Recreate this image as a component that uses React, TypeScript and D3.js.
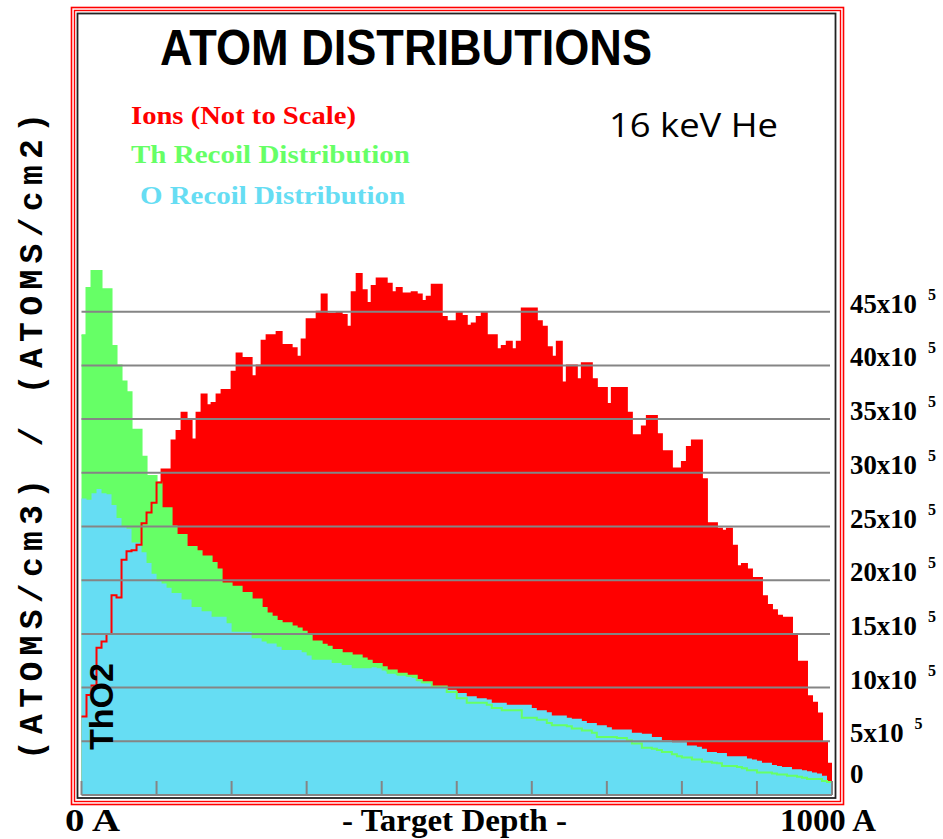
import * as d3 from 'd3';

// ion range histogram (x10^5, not to scale), 150 bins over 0..1000 A
const ionValues = [
  7.3, 9.3, 10.2, 13.7, 14.3, 15.0, 18.6, 18.4, 21.9, 22.7,
  22.8, 23.3, 25.3, 26.3, 27.2, 29.1, 30.3, 30.3, 33.0, 33.9,
  35.6, 34.9, 33.1, 35.6, 37.3, 36.3, 36.5, 37.3, 37.7, 37.7,
  39.4, 41.1, 40.7, 40.7, 39.0, 40.0, 42.3, 42.8, 42.8, 43.1,
  41.9, 41.9, 41.6, 40.8, 42.4, 44.3, 44.3, 45.0, 46.6, 44.8,
  44.8, 44.9, 44.7, 43.6, 46.8, 48.5, 47.0, 45.8, 47.4, 48.1,
  48.1, 47.6, 46.8, 47.2, 46.7, 46.7, 46.8, 46.6, 46.0, 46.4,
  47.5, 47.5, 44.5, 44.1, 44.1, 44.9, 44.6, 43.7, 43.9, 44.5,
  44.9, 42.8, 42.8, 41.5, 41.8, 42.2, 41.5, 42.2, 45.3, 45.3,
  45.3, 44.1, 43.6, 41.7, 40.8, 42.2, 38.4, 40.0, 40.0, 38.7,
  40.2, 40.2, 38.7, 37.9, 37.9, 36.4, 37.9, 37.9, 37.9, 35.6,
  33.5, 33.5, 34.3, 35.3, 35.3, 33.6, 32.0, 32.0, 30.4, 30.4,
  31.0, 32.4, 33.0, 33.0, 29.4, 25.3, 25.3, 24.8, 24.6, 24.8,
  23.2, 21.3, 21.5, 21.0, 20.2, 20.2, 18.5, 17.7, 17.2, 16.7,
  16.5, 16.5, 14.8, 12.4, 12.4, 9.2, 8.6, 7.6, 4.9, 2.9,
];

const thRecoil = [
  42.8, 47.2, 48.8, 48.8, 47.1, 47.1, 41.8, 40.0, 38.5, 37.5,
  34.0, 34.0, 31.5, 29.7, 29.7, 29.1, 26.7, 26.7, 25.0, 24.2,
  24.2, 23.1, 23.1, 22.7, 22.2, 22.2, 21.6, 21.0, 19.7, 19.7,
  19.4, 19.4, 18.8, 18.8, 18.2, 18.2, 17.4, 16.9, 16.6, 16.2,
  16.0, 16.0, 15.7, 15.5, 15.2, 14.8, 14.3, 14.3, 14.0, 13.8,
  13.5, 13.5, 13.2, 13.2, 13.0, 13.0, 12.7, 12.5, 12.2, 12.2,
  11.9, 11.6, 11.6, 11.3, 11.3, 11.1, 11.1, 10.7, 10.5, 10.5,
  10.1, 10.1, 10.1, 9.6, 9.6, 9.0, 9.0, 8.6, 8.6, 8.6,
  8.6, 8.4, 8.1, 8.1, 7.9, 7.9, 7.9, 7.9, 7.2, 7.2,
  7.2, 7.0, 7.0, 6.7, 6.5, 6.5, 6.5, 6.4, 6.2, 6.2,
  6.0, 6.0, 5.8, 5.4, 5.4, 5.4, 5.4, 5.3, 5.3, 5.1,
  4.8, 4.8, 4.4, 4.4, 4.3, 4.2, 4.0, 4.0, 3.8, 3.6,
  3.5, 3.5, 3.3, 3.3, 3.1, 3.1, 3.0, 2.95, 2.7, 2.7,
  2.7, 2.6, 2.5, 2.3, 2.3, 2.1, 2.1, 2.1, 2.0, 1.9,
  1.9, 1.8, 1.8, 1.7, 1.6, 1.5, 1.5, 1.5, 1.3, 1.2,
];

const oRecoil = [
  27.6, 27.5, 28.1, 28.5, 28.1, 28.0, 27.0, 25.8, 25.0, 24.8,
  23.5, 23.5, 22.6, 21.6, 20.6, 19.9, 19.7, 19.3, 18.8, 18.8,
  18.2, 18.2, 17.5, 17.5, 17.1, 17.1, 16.6, 16.6, 16.6, 16.0,
  15.2, 15.2, 15.2, 15.2, 14.6, 14.6, 14.3, 14.1, 14.1, 13.8,
  13.5, 13.5, 13.5, 13.5, 13.3, 13.0, 12.6, 12.6, 12.6, 12.6,
  12.3, 12.3, 12.1, 12.1, 11.8, 11.8, 11.8, 11.8, 11.9, 11.8,
  11.6, 11.3, 11.3, 11.1, 11.1, 11.0, 10.9, 10.6, 10.4, 10.4,
  10.1, 10.1, 10.1, 9.8, 9.8, 9.5, 9.5, 9.2, 9.2, 9.0,
  9.0, 8.9, 8.6, 8.6, 8.6, 8.4, 8.4, 8.4, 8.4, 8.4,
  8.1, 7.9, 7.9, 7.7, 7.4, 7.4, 7.4, 7.2, 7.1, 7.1,
  6.9, 6.7, 6.7, 6.5, 6.5, 6.3, 6.1, 6.1, 6.1, 6.1,
  5.8, 5.8, 5.7, 5.7, 5.4, 5.4, 5.1, 5.1, 4.9, 4.9,
  4.9, 4.6, 4.6, 4.5, 4.3, 4.0, 4.0, 3.9, 3.9, 3.6,
  3.6, 3.6, 3.6, 3.4, 3.3, 3.2, 3.0, 3.0, 2.8, 2.7,
  2.6, 2.6, 2.4, 2.4, 2.3, 2.2, 2.1, 2.0, 1.8, 1.2,
];

const yTicks = [0, 5, 10, 15, 20, 25, 30, 35, 40, 45];
const xTicks = [0, 100, 200, 300, 400, 500, 600, 700, 800, 900, 1000];
const legendLabels = ['Ions (Not to Scale)', 'Th Recoil Distribution', 'O Recoil Distribution'];

const RED = '#ff0000';
const GREEN = '#66ff66';
const CYAN = '#66ddf3';
const GRID = '#858585';
const DEPTH = 1000;

const toSteps = (vals: number[]) => {
  const w = DEPTH / vals.length;
  const pts = vals.map((v, i) => [i * w, v] as [number, number]);
  pts.push([DEPTH, vals[vals.length - 1]]);
  return pts;
};

const App = () => {
  const x = d3.scaleLinear().domain([0, DEPTH]).range([81.5, 832]);
  const y = d3.scaleLinear().domain([0, 45]).range([795, 311.7]);

  const area = d3.area<[number, number]>()
    .curve(d3.curveStepAfter)
    .x(d => x(d[0]))
    .y0(y(0))
    .y1(d => y(d[1]));

  const line = d3.line<[number, number]>()
    .curve(d3.curveStepAfter)
    .x(d => x(d[0]))
    .y(d => y(d[1]));

  const ions = toSteps(ionValues);
  const th = toSteps(thRecoil);
  const o = toSteps(oRecoil);

  const serif = '"Liberation Serif", "Times New Roman", serif';

  return (
    <svg width={943} height={839} style={{ position: 'absolute', left: 0, top: 0, background: '#fff' }}>
      {/* frame */}
      <rect x={71.5} y={7.5} width={772} height={797} fill="none" stroke={RED} strokeWidth={1.6} />
      <rect x={74.5} y={10.5} width={766} height={791} fill="none" stroke={RED} strokeWidth={1.4} />
      <rect x={77.5} y={13.5} width={758} height={784.5} fill="none" stroke="#222" strokeWidth={1.8} />

      <text x={160} y={65} fontFamily='"Liberation Sans", Arial, sans-serif' fontWeight="bold"
        fontSize={50} textLength={492} lengthAdjust="spacingAndGlyphs">ATOM DISTRIBUTIONS</text>

      {/* histograms */}
      <path d={area(ions) ?? ''} fill={RED} />
      <path d={area(th) ?? ''} fill={GREEN} />
      <path d={area(o) ?? ''} fill={CYAN} />
      <path d={line(th) ?? ''} fill="none" stroke={GREEN} strokeWidth={2} />
      <path d={line(ions) ?? ''} fill="none" stroke={RED} strokeWidth={2} />

      {/* grid + right axis */}
      {yTicks.filter(v => v > 0).map(v => (
        <line key={v} x1={x(0)} x2={x(DEPTH) - 2} y1={y(v)} y2={y(v)} stroke={GRID} strokeWidth={2} />
      ))}
      <line x1={x(0)} x2={x(DEPTH)} y1={y(0)} y2={y(0)} stroke={GRID} strokeWidth={2} />
      {xTicks.map(t => (
        <line key={t} x1={x(t)} x2={x(t)} y1={y(0) - 14} y2={y(0)} stroke={GRID} strokeWidth={2} />
      ))}

      {yTicks.map(v => {
        if (v === 0) {
          return <text key={v} x={850} y={y(0) - 12} fontFamily={serif} fontWeight="bold" fontSize={27}>0</text>;
        }
        const label = `${v}x10`;
        const w = label.length * 13.4;
        return (
          <g key={v}>
            <text x={850} y={y(v) + 1} fontFamily={serif} fontWeight="bold" fontSize={27}
              textLength={w} lengthAdjust="spacingAndGlyphs">{label}</text>
            <text x={850 + w + 11} y={y(v) - 12} fontFamily={serif} fontWeight="bold" fontSize={16}>5</text>
          </g>
        );
      })}

      {/* legend */}
      <text x={131} y={124} fill={RED} fontFamily={serif} fontWeight="bold" fontSize={26}
        textLength={225} lengthAdjust="spacingAndGlyphs">{legendLabels[0]}</text>
      <text x={131} y={163} fill={GREEN} fontFamily={serif} fontWeight="bold" fontSize={26}
        textLength={279} lengthAdjust="spacingAndGlyphs">{legendLabels[1]}</text>
      <text x={140} y={204} fill={CYAN} fontFamily={serif} fontWeight="bold" fontSize={26}
        textLength={265} lengthAdjust="spacingAndGlyphs">{legendLabels[2]}</text>

      <text x={609} y={137} fontFamily='"Open Sans", sans-serif' fontSize={33}
        textLength={169} lengthAdjust="spacingAndGlyphs">16 keV He</text>

      {/* rotated labels */}
      <text transform="translate(42, 760) rotate(-90)" fontFamily='"Liberation Mono", monospace'
        fontWeight="bold" fontSize={33} textLength={647} lengthAdjust="spacing">(ATOMS/cm3) / (ATOMS/cm2)</text>
      <text transform="translate(113, 750) rotate(-90)" fontFamily='"Liberation Sans", Arial, sans-serif'
        fontWeight="bold" fontSize={33} textLength={87} lengthAdjust="spacingAndGlyphs">ThO2</text>

      {/* bottom axis labels */}
      <text x={65} y={831} fontFamily={serif} fontWeight="bold" fontSize={32}
        textLength={55} lengthAdjust="spacingAndGlyphs">0 A</text>
      <text x={342} y={831} fontFamily={serif} fontWeight="bold" fontSize={32}
        textLength={225} lengthAdjust="spacingAndGlyphs">- Target Depth -</text>
      <text x={780} y={831} fontFamily={serif} fontWeight="bold" fontSize={32}
        textLength={96} lengthAdjust="spacingAndGlyphs">1000 A</text>
    </svg>
  );
};

export default App;
